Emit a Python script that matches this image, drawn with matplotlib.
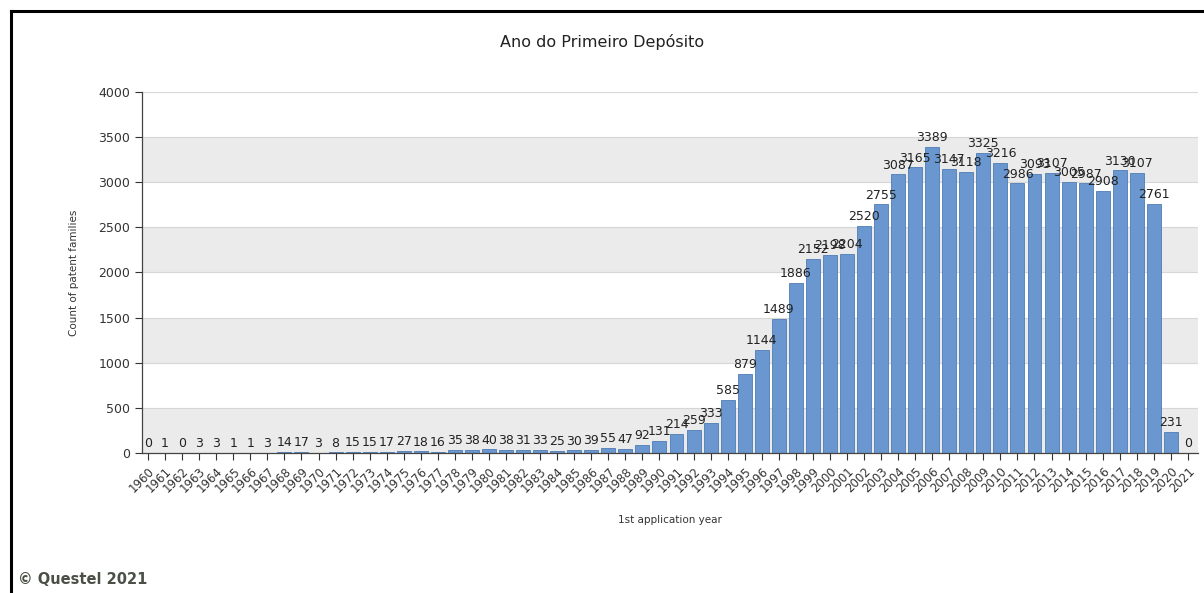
import numpy as np
import matplotlib.pyplot as plt
from matplotlib.lines import Line2D

years = list(range(1960, 2022))
counts = [0, 1, 0, 3, 3, 1, 1, 3, 14, 17,
          3, 8, 15, 15, 17, 27, 18, 16, 35, 38,
          40, 38, 31, 33, 25, 30, 39, 55, 47, 92,
          131, 214, 259, 333, 585, 879, 1144, 1489, 1886, 2152,
          2198, 2204, 2520, 2755, 3087, 3165, 3389, 3147, 3118, 3325,
          3216, 2986, 3093, 3107, 3005, 2987, 2908, 3130, 3107, 2761,
          231, 0]
y_ticks = [0, 500, 1000, 1500, 2000, 2500, 3000, 3500, 4000]

fig = plt.figure(figsize=(12.04, 5.93), dpi=100)
ax = fig.add_axes([0.118, 0.236, 0.877, 0.609])

x = np.arange(len(years))
ax.set_xlim(-0.35, len(years) - 0.41)
ax.set_ylim(0, 4000)

# alternating bands
for i in range(0, len(y_ticks) - 1, 2):
    ax.axhspan(y_ticks[i], y_ticks[i + 1], color='#ebebeb', zorder=0, lw=0)
for t in y_ticks[1:]:
    ax.axhline(t, color='#d6d6d6', lw=0.8, zorder=0.5)

ax.bar(x, counts, width=0.82, color='#6a97cf', edgecolor='#4f7db5', lw=0.6, zorder=2)
for xi, c in zip(x, counts):
    ax.annotate(str(c), (xi, c), xytext=(0, 2), textcoords='offset points',
                ha='center', va='bottom', fontsize=9, color='#222222', zorder=3)

ax.set_yticks(y_ticks)
ax.set_xticks(x)
ax.set_xticklabels([str(y) for y in years], rotation=45, ha='right',
                   rotation_mode='anchor', fontsize=8.5, color='#333333')
ax.tick_params(axis='y', labelsize=9, colors='#333333', length=5, width=0.8)
ax.tick_params(axis='x', length=5, width=0.8, colors='#333333')
for s in ['top', 'right']:
    ax.spines[s].set_visible(False)
for s in ['left', 'bottom']:
    ax.spines[s].set_color('#444444')
    ax.spines[s].set_linewidth(0.9)

ax.set_ylabel('Count of patent families', fontsize=7.5, color='#333333', labelpad=14)
ax.set_xlabel('1st application year', fontsize=7.5, color='#333333', labelpad=14)

fig.text(0.5, 0.93, 'Ano do Primeiro Depósito', ha='center', va='center',
         fontsize=11.5, color='#222222')
fig.text(0.015, 0.022, '© Questel 2021', ha='left', va='center',
         fontsize=10.5, fontweight='bold', color='#4a5046')

# outer frame (left and top)
fig.add_artist(Line2D([0.009, 0.009], [0.0, 0.982], color='black', lw=2.2,
                      transform=fig.transFigure))
fig.add_artist(Line2D([0.009, 1.0], [0.982, 0.982], color='black', lw=2.2,
                      transform=fig.transFigure))

fig.savefig('out.png', dpi=100)
